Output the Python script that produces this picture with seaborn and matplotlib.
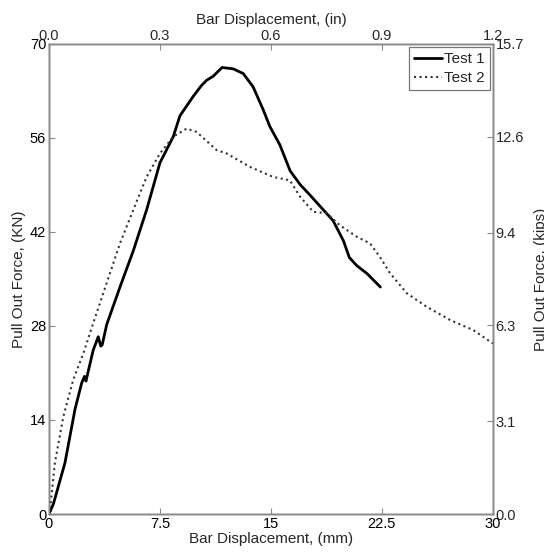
import matplotlib
matplotlib.use("Agg")
import matplotlib.pyplot as plt
import seaborn as sns
import pandas as pd

# pull out test curves
test1_mm = [0, 0.3, 1.08, 1.76, 2.21, 2.4, 2.5, 2.99, 3.33, 3.5, 3.6, 3.9, 4.8, 5.7,
            6.6, 7.5, 8.4, 8.85, 9.75, 10.3, 10.66, 11.1, 11.7, 12.45, 13.13, 13.8,
            14.48, 14.93, 15.6, 16.3, 17.0, 17.6, 18.5, 19.2, 19.9, 20.3, 20.8, 21.5, 22.4]
test1_kn = [0, 1.5, 7.6, 15.6, 19.5, 20.5, 19.8, 24.4, 26.4, 25.0, 25.2, 28.2, 33.8, 39.2,
            45.3, 52.3, 56.2, 59.3, 62.2, 63.8, 64.6, 65.2, 66.5, 66.3, 65.6, 63.6,
            60.2, 57.7, 55.0, 51.1, 49.0, 47.6, 45.4, 43.7, 40.7, 38.2, 37.0, 35.8, 33.8]

test2_mm = [0, 0.07, 0.4, 0.97, 1.64, 2.32, 2.99, 3.9, 4.8, 5.7, 6.6, 7.5, 8.4, 9.3, 9.98,
            11.33, 12.0, 13.58, 15.15, 16.28, 16.96, 17.86, 18.76, 19.66, 20.8, 21.7,
            22.36, 23.04, 24.17, 25.5, 27.1, 28.67, 30.0]
test2_kn = [0, 0.6, 7.6, 14.5, 20.0, 23.9, 28.4, 34.4, 40.3, 45.3, 50.2, 53.7, 56.2, 57.4, 56.9,
            54.2, 53.7, 51.7, 50.2, 49.7, 47.3, 45.0, 44.8, 43.0, 41.3, 40.3,
            38.3, 35.9, 32.9, 30.9, 28.9, 27.4, 25.4]

mm_ticks = [0, 7.5, 15, 22.5, 30]
mm_labels = ["0", "7.5", "15", "22.5", "30"]
in_ticks = [0.0, 0.3, 0.6, 0.9, 1.2]
kn_ticks = [0, 14, 28, 42, 56, 70]
kips_ticks = [0.0, 3.1, 6.3, 9.4, 12.6, 15.7]

sns.set_style("white")
plt.rcParams["font.family"] = ["Liberation Sans", "DejaVu Sans"]
plt.rcParams["xtick.direction"] = "in"
plt.rcParams["ytick.direction"] = "in"

df1 = pd.DataFrame({"mm": test1_mm, "kn": test1_kn})
df2 = pd.DataFrame({"mm": test2_mm, "kn": test2_kn})

fig = plt.figure(figsize=(5.44, 5.54), dpi=100)
ax = fig.add_axes([0.090, 0.0722, 0.816, 0.8484])

sns.lineplot(data=df1, x="mm", y="kn", ax=ax, color="black", linewidth=2.0,
             label="Test 1", estimator=None, sort=False)
sns.lineplot(data=df2, x="mm", y="kn", ax=ax, color="#333333", linewidth=1.5,
             linestyle=":", label="Test 2", estimator=None, sort=False)

spine_col = "#8a8a8a"
ax.set_xlim(0, 30)
ax.set_ylim(0, 70)
ax.set_xticks(mm_ticks)
ax.set_xticklabels(mm_labels)
ax.set_yticks(kn_ticks)
ax.tick_params(axis="both", length=4, width=0.8, color=spine_col, labelsize=10.5,
               labelcolor="black", pad=2)
ax.set_xlabel("Bar Displacement, (mm)", fontsize=11)
ax.set_ylabel("Pull Out Force, (KN)", fontsize=11)
ax.xaxis.set_label_coords(0.5, -0.038)
ax.yaxis.set_label_coords(-0.052, 0.5)
for s in ax.spines.values():
    s.set_color(spine_col)
    s.set_linewidth(1.0)

leg = ax.legend(loc="upper right", fontsize=11, frameon=True, fancybox=False,
                handlelength=1.8, handletextpad=0.15, borderpad=0.35,
                labelspacing=0.3, borderaxespad=0.2)
leg.get_frame().set_edgecolor("#555555")
leg.get_frame().set_linewidth(0.9)

ax_top = ax.twiny()
ax_top.set_xlim(0, 1.2)
ax_top.set_xticks(in_ticks)
ax_top.set_xticklabels([f"{t:.1f}" for t in in_ticks])
ax_top.tick_params(axis="x", length=4, width=0.8, color=spine_col, labelsize=10.5, pad=1)
ax_top.set_xlabel("Bar Displacement, (in)", fontsize=11)
ax_top.xaxis.set_label_coords(0.5, 1.043)

ax_right = ax.twinx()
ax_right.set_ylim(0, 15.7)
ax_right.set_yticks(kips_ticks)
ax_right.set_yticklabels([f"{t:.1f}" for t in kips_ticks])
ax_right.tick_params(axis="y", length=4, width=0.8, color=spine_col, labelsize=10.5, pad=2)
ax_right.set_ylabel("Pull Out Force, (kips)", fontsize=11)
ax_right.yaxis.set_label_coords(1.093, 0.5)

for a in (ax_top, ax_right):
    for s in a.spines.values():
        s.set_color(spine_col)
        s.set_linewidth(1.0)

ax.set_zorder(3)
ax.patch.set_visible(False)

fig.savefig("out.png", dpi=100)
